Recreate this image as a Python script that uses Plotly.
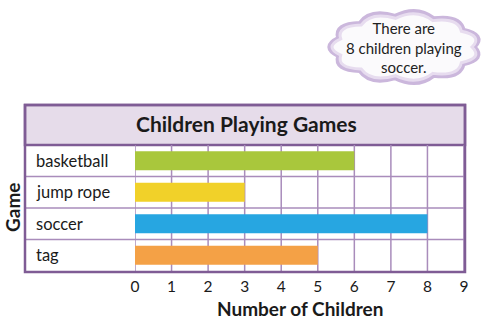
import math
import plotly.graph_objects as go

categories = ["basketball", "jump rope", "soccer", "tag"]
children = [6, 3, 8, 5]
bar_colors = ["#a9c73c", "#f1d129", "#27a6e1", "#f4a146"]
tick_values = list(range(0, 10))
tick_labels = [str(v) for v in tick_values]

W, H = 486, 328
L, R, T, B = 135, 464, 145, 271


def px(x):
    return (x - L) / (R - L)


def py(y):
    return (B - y) / (B - T)


FONT = "Lato"
PURPLE = "#7f5c95"
GRID = "#a98cbb"

fig = go.Figure()
fig.add_trace(go.Bar(
    y=categories, x=children, orientation="h",
    marker=dict(color=bar_colors, line=dict(width=0)),
    width=0.6, hoverinfo="skip",
))

shapes = []
# title band
shapes.append(dict(type="rect", xref="paper", yref="paper", x0=px(25), x1=px(465), y0=1, y1=py(105),
                   fillcolor="#e6dcea", line=dict(color=PURPLE, width=2.5), layer="below"))
# row separators spanning label column and plot
for i in range(len(categories) - 1):
    shapes.append(dict(type="line", xref="paper", yref="y", x0=px(25), x1=1, y0=i + 0.5, y1=i + 0.5,
                       line=dict(color=GRID, width=1.5), layer="below"))
# vertical grid lines
for v in tick_values:
    shapes.append(dict(type="line", xref="x", yref="paper", x0=v, x1=v, y0=0, y1=1,
                       line=dict(color=GRID, width=1.5), layer="below"))
# outer border of table
shapes.append(dict(type="rect", xref="paper", yref="paper", x0=px(25), x1=px(465), y0=py(272), y1=py(105),
                   line=dict(color=PURPLE, width=2.5), layer="above"))


# cloud speech bubble
def cloud_path(cx, cy, rx, ry, n=11, bump=0.22):
    pts = []
    for k in range(n):
        a = 2 * math.pi * k / n
        pts.append((cx + rx * math.cos(a), cy + ry * math.sin(a)))
    d = "M %.4f,%.4f" % (px(pts[0][0]), py(pts[0][1]))
    for k in range(n):
        p1 = pts[(k + 1) % n]
        am = 2 * math.pi * (k + 0.5) / n
        cxp = cx + rx * (1 + bump) * math.cos(am)
        cyp = cy + ry * (1 + bump * 1.6) * math.sin(am)
        d += " Q %.4f,%.4f %.4f,%.4f" % (px(cxp), py(cyp), px(p1[0]), py(p1[1]))
    return d + " Z"


shapes.append(dict(type="path", xref="paper", yref="paper", path=cloud_path(405, 47, 69, 31),
                   fillcolor="#ffffff", line=dict(color="#cbb7dc", width=5), layer="below"))
shapes.append(dict(type="path", xref="paper", yref="paper", path=cloud_path(405, 47, 67, 29),
                   fillcolor="#fbfafc", line=dict(color="#e7dcef", width=3), layer="below"))

annotations = []
annotations.append(dict(text="<b>Children Playing Games</b>", xref="paper", yref="paper",
                        x=px(246), y=py(124), showarrow=False, xanchor="center", yanchor="middle",
                        font=dict(family=FONT, size=21, color="#1a1a1a")))
for c in categories:
    annotations.append(dict(text=c, xref="paper", yref="y", x=px(34), y=c, showarrow=False,
                            xanchor="left", yanchor="middle",
                            font=dict(family=FONT, size=16.5, color="#1a1a1a")))
annotations.append(dict(text="<b>Game</b>", xref="paper", yref="paper", x=px(12), y=py(207),
                        showarrow=False, textangle=-90, xanchor="center", yanchor="middle",
                        font=dict(family=FONT, size=19, color="#1a1a1a")))
annotations.append(dict(text="<b>Number of Children</b>", xref="paper", yref="paper", x=px(300), y=py(308),
                        showarrow=False, xanchor="center", yanchor="middle",
                        font=dict(family=FONT, size=19, color="#1a1a1a")))
annotations.append(dict(text="There are<br>8 children playing<br>soccer.", xref="paper", yref="paper",
                        x=px(404), y=py(47), showarrow=False, xanchor="center", yanchor="middle",
                        align="center", font=dict(family=FONT, size=15, color="#222222")))

fig.update_layout(
    width=W, height=H,
    margin=dict(l=L, r=W - R, t=T, b=H - B, pad=0),
    paper_bgcolor="white", plot_bgcolor="white",
    showlegend=False,
    shapes=shapes, annotations=annotations,
    bargap=0.4,
    xaxis=dict(range=[0, 9], tickvals=tick_values, ticktext=tick_labels, showgrid=False,
               zeroline=False, showline=False, ticks="outside", ticklen=1, tickcolor="rgba(0,0,0,0)",
               tickfont=dict(family=FONT, size=15.5, color="#1a1a1a")),
    yaxis=dict(categoryorder="array", categoryarray=categories, autorange="reversed",
               showticklabels=False, showgrid=False, zeroline=False, showline=False, ticks=""),
)

fig.write_html("out.html")
